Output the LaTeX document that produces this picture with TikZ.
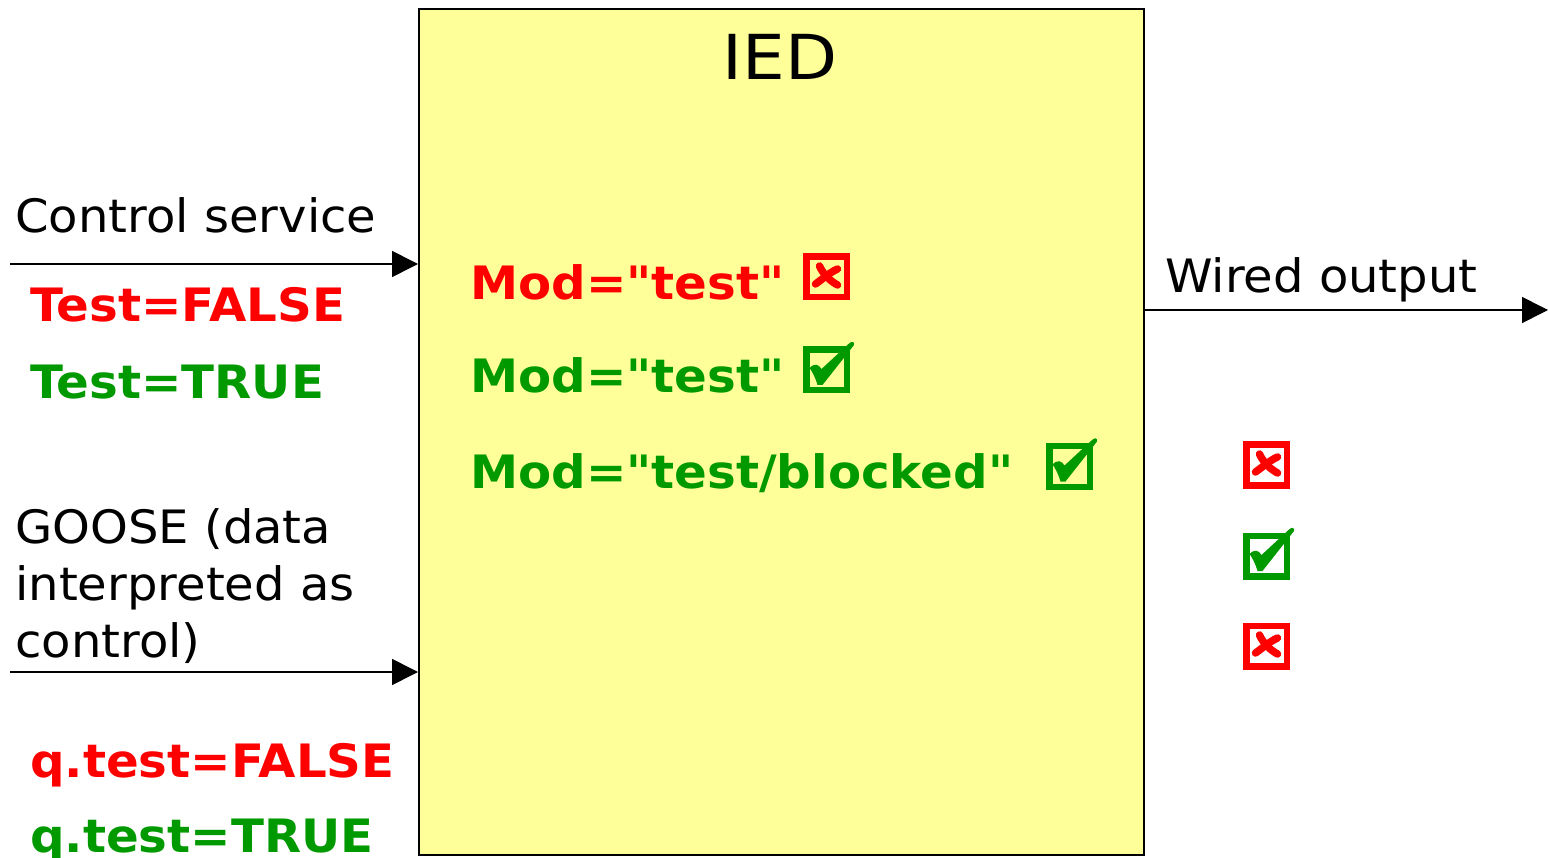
\documentclass[tikz,border=0pt]{standalone}
\usepackage{fontspec}
\setmainfont{DejaVu Sans}[Ligatures=TeXOff]
\newfontfamily\regfont{DejaVu Sans}[Ligatures=TeXOff, FakeStretch=1.045]
\newfontfamily\boldfont{DejaVu Sans Bold}[Ligatures=TeXOff, FakeStretch=1.05]
\newfontfamily\iedfont{DejaVu Sans}[Ligatures=TeXOff, FakeStretch=1.09]
\usetikzlibrary{arrows.meta}
\definecolor{boxyellow}{HTML}{FFFF99}
\definecolor{okgreen}{HTML}{009900}
\definecolor{nored}{HTML}{FF0000}
\tikzset{
  lbl/.style={anchor=base west, inner sep=0pt, font=\regfont\fontsize{46}{55}\selectfont},
  blbl/.style={anchor=base west, inner sep=0pt, font=\boldfont\fontsize{46}{55}\selectfont},
  conn/.style={line width=1.6pt, -{Triangle[length=26pt,width=26pt]}},
  mbox/.style={draw, line width=6.5pt, minimum size=40.5pt, inner sep=0pt},
  xstroke/.style={draw=nored, line width=7.5pt, line cap=round},
}
\newcommand{\crossbox}[3]{%
  \node[mbox, draw=nored] (#1) at (#2,#3) {};
  \begin{scope}[shift={(#1.center)}]
    \draw[xstroke] (-7,-11) .. controls (-3,-2) and (4,4) .. (11,8);
    \draw[xstroke] (11,-8) .. controls (4,-5) and (-4,2) .. (-11,7);
  \end{scope}
}
\newcommand{\checkbox}[3]{%
  \node[mbox, draw=okgreen] (#1) at (#2,#3) {};
  \begin{scope}[shift={(#1.center)}]
  \fill[okgreen] (-17,-2)
     .. controls (-12,-7) and (-8,-6) .. (-5,-1)
     -- (22,-26)
     .. controls (25,-29) and (28,-29) .. (27.5,-25)
     -- (-4,15)
     -- (-9,15)
     .. controls (-11,8) and (-14,2) .. cycle;
  \end{scope}
}
\begin{document}
\begin{tikzpicture}[x=1pt,y=-1pt]
\useasboundingbox (0,0) rectangle (1548,858);
\fill[white] (0,0) rectangle (1548,858);
% IED box
\node[draw, fill=boxyellow, line width=2pt, minimum width=725pt, minimum height=846pt, inner sep=0pt, anchor=north west] (ied) at (418,8) {};
\node[anchor=base, inner sep=0pt, font=\iedfont\fontsize{62}{70}\selectfont] (iedt) at (780,80) {IED};
% inputs
\coordinate (cin) at (10,264);
\coordinate (gin) at (10,672);
\coordinate (wout) at (1548,310);
\draw[conn] (cin) -- (cin -| ied.west);
\draw[conn] (gin) -- (gin -| ied.west);
\draw[conn] (wout -| ied.east) -- (wout);
\node[lbl] (cs) at (15,233) {Control service};
\node[blbl, text=nored] (tf) at (30,322) {Test=FALSE};
\node[blbl, text=okgreen] (tt) at (30,399) {Test=TRUE};
\node[lbl] (g1) at (15,543) {GOOSE (data};
\node[lbl] (g2) at (15,600) {interpreted as};
\node[lbl] (g3) at (15,657) {control)};
\node[blbl, text=nored] (qf) at (30,777) {q.test=FALSE};
\node[blbl, text=okgreen] (qt) at (30,852) {q.test=TRUE};
\node[lbl] (wo) at (1165,293) {Wired output};
% modes
\node[blbl, text=nored] (m1) at (470,300) {Mod="test"};
\node[blbl, text=okgreen] (m2) at (470,393) {Mod="test"};
\node[blbl, text=okgreen] (m3) at (470,488) {Mod="test/blocked"};
\crossbox{b1}{826.5}{277}
\checkbox{b2}{826.5}{370}
\checkbox{b3}{1069.5}{466.5}
\crossbox{r1}{1266.5}{465}
\checkbox{r2}{1266.5}{556}
\crossbox{r3}{1266.5}{646}
\end{tikzpicture}
\end{document}
